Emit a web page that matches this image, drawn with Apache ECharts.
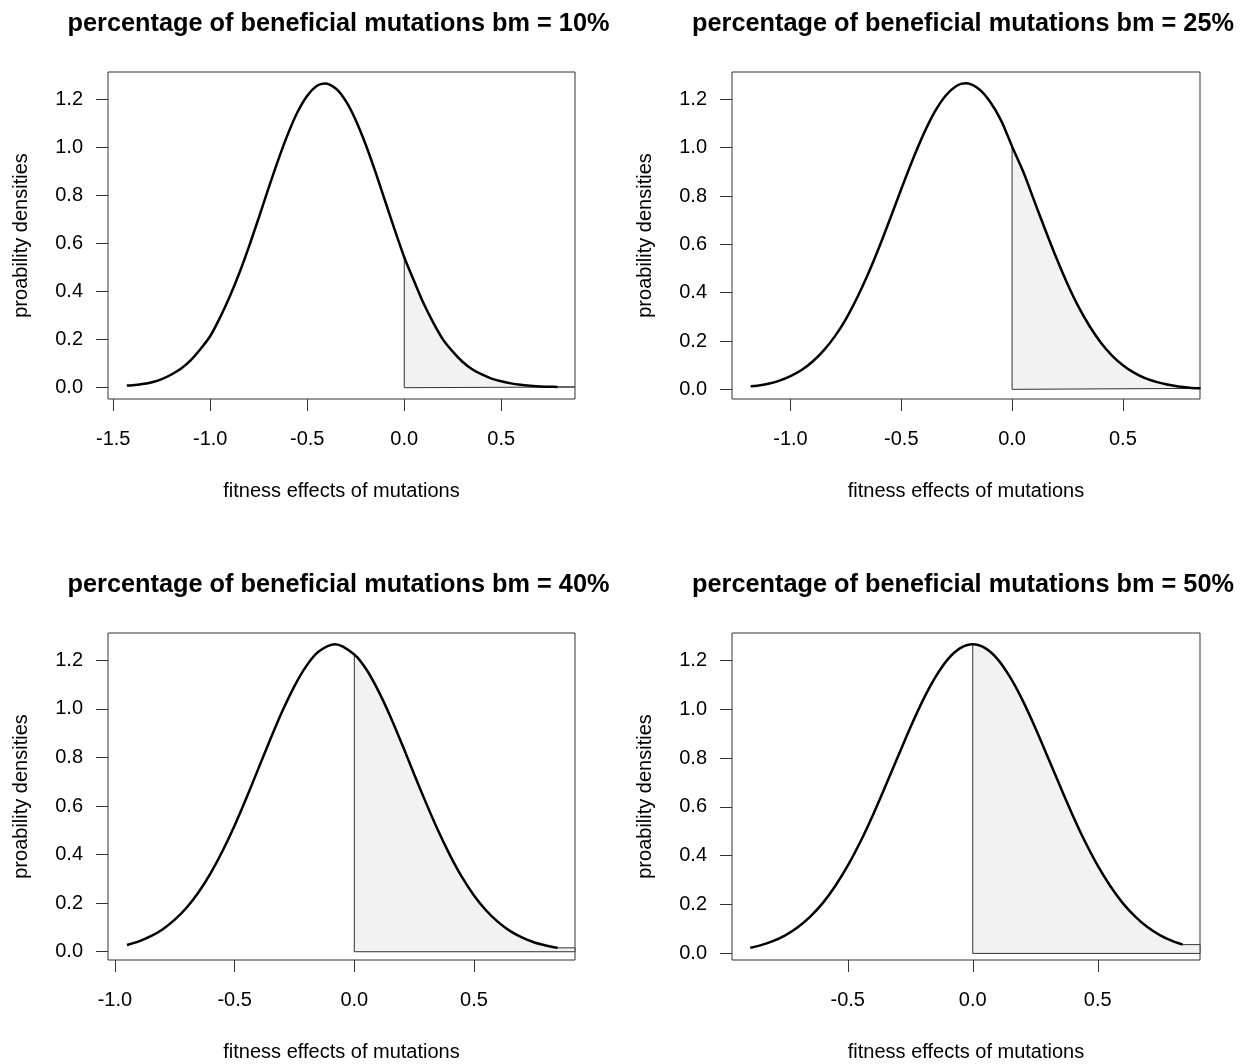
<!DOCTYPE html>
<html>
<head>
<meta charset="utf-8">
<title>beneficial mutations</title>
<script src="https://cdn.jsdelivr.net/npm/echarts@6/dist/echarts.min.js"></script>
<style>
  html, body { margin: 0; padding: 0; background: #fff; }
  #chart { width: 1247px; height: 1064px; }
</style>
</head>
<body>
<div id="chart"></div>
<script>
// panel labels (bm = share of beneficial mutations)
const bmLabels = ["10%", "25%", "40%", "50%"];

// density curves (step 0.05)
const x10 = [-1.43, -1.4, -1.35, -1.3, -1.25, -1.2, -1.15, -1.1, -1.05, -1.0, -0.95, -0.9, -0.85, -0.8, -0.75, -0.7, -0.65, -0.6, -0.55, -0.5, -0.45, -0.41, -0.35, -0.3, -0.25, -0.2, -0.15, -0.1, -0.05, 0.0, 0.05, 0.1, 0.15, 0.2, 0.25, 0.3, 0.35, 0.4, 0.45, 0.5, 0.55, 0.6, 0.65, 0.7, 0.75, 0.79];
const y10 = [0.009, 0.010, 0.015, 0.023, 0.036, 0.055, 0.080, 0.115, 0.161, 0.215, 0.291, 0.378, 0.477, 0.588, 0.707, 0.829, 0.947, 1.055, 1.147, 1.215, 1.256, 1.266, 1.243, 1.191, 1.113, 1.014, 0.901, 0.780, 0.659, 0.543, 0.445, 0.350, 0.270, 0.200, 0.150, 0.108, 0.077, 0.055, 0.038, 0.027, 0.018, 0.012, 0.008, 0.005, 0.004, 0.003];

const x25 = [-1.18, -1.15, -1.1, -1.05, -1.0, -0.95, -0.9, -0.85, -0.8, -0.75, -0.7, -0.65, -0.6, -0.55, -0.5, -0.45, -0.4, -0.35, -0.3, -0.25, -0.21, -0.15, -0.1, -0.05, 0.0, 0.05, 0.1, 0.15, 0.2, 0.25, 0.3, 0.35, 0.4, 0.45, 0.5, 0.55, 0.6, 0.65, 0.7, 0.75, 0.8, 0.85];
const y25 = [0.013, 0.015, 0.023, 0.036, 0.055, 0.080, 0.115, 0.161, 0.219, 0.291, 0.378, 0.477, 0.588, 0.707, 0.829, 0.947, 1.055, 1.147, 1.215, 1.256, 1.266, 1.243, 1.191, 1.113, 1.005, 0.901, 0.780, 0.659, 0.543, 0.436, 0.341, 0.261, 0.194, 0.141, 0.100, 0.069, 0.046, 0.031, 0.020, 0.012, 0.007, 0.004];

const x40 = [-0.95, -0.9, -0.85, -0.8, -0.75, -0.7, -0.65, -0.6, -0.55, -0.5, -0.45, -0.4, -0.35, -0.3, -0.25, -0.2, -0.15, -0.08, 0.0, 0.05, 0.1, 0.15, 0.2, 0.25, 0.3, 0.35, 0.4, 0.45, 0.5, 0.55, 0.6, 0.65, 0.7, 0.75, 0.8, 0.85];
const y40 = [0.028, 0.043, 0.064, 0.093, 0.132, 0.182, 0.246, 0.324, 0.416, 0.520, 0.635, 0.756, 0.877, 0.992, 1.094, 1.177, 1.235, 1.266, 1.224, 1.163, 1.075, 0.970, 0.853, 0.731, 0.612, 0.499, 0.397, 0.307, 0.232, 0.171, 0.123, 0.086, 0.059, 0.039, 0.026, 0.016];

const x50 = [-0.89, -0.85, -0.8, -0.75, -0.7, -0.65, -0.6, -0.55, -0.5, -0.45, -0.4, -0.35, -0.3, -0.25, -0.2, -0.15, -0.1, -0.05, 0.0, 0.05, 0.1, 0.15, 0.2, 0.25, 0.3, 0.35, 0.4, 0.45, 0.5, 0.55, 0.6, 0.65, 0.7, 0.75, 0.8, 0.84];
const y50 = [0.023, 0.033, 0.050, 0.074, 0.107, 0.151, 0.206, 0.276, 0.359, 0.456, 0.565, 0.683, 0.804, 0.924, 1.035, 1.130, 1.204, 1.250, 1.266, 1.250, 1.204, 1.130, 1.035, 0.924, 0.804, 0.683, 0.565, 0.456, 0.359, 0.276, 0.206, 0.151, 0.107, 0.074, 0.050, 0.036];

// tick labels
const yTicks = [0.0, 0.2, 0.4, 0.6, 0.8, 1.0, 1.2];
const xTicks10 = [-1.5, -1.0, -0.5, 0.0, 0.5];
const xTicks25 = [-1.0, -0.5, 0.0, 0.5];
const xTicks40 = [-1.0, -0.5, 0.0, 0.5];
const xTicks50 = [-0.5, 0.0, 0.5];

const font = "'Liberation Sans', Arial, sans-serif";

// plot box of each panel plus its axis limits (R style, 4% padding)
const panels = [
  { xs: x10, ys: y10, ticks: xTicks10, left: 108, top: 72, width: 467, xMin: -1.527, xMax: 0.880, yMin: -0.047, yMax: 1.3136 },
  { xs: x25, ys: y25, ticks: xTicks25, left: 732, top: 72, width: 468, xMin: -1.264, xMax: 0.848, yMin: -0.040, yMax: 1.313 },
  { xs: x40, ys: y40, ticks: xTicks40, left: 108, top: 633, width: 467, xMin: -1.029, xMax: 0.922, yMin: -0.034, yMax: 1.3125 },
  { xs: x50, ys: y50, ticks: xTicks50, left: 732, top: 633, width: 468, xMin: -0.963, xMax: 0.909, yMin: -0.027, yMax: 1.312 },
];
const boxHeight = 327;

const chart = echarts.init(document.getElementById("chart"), null, { renderer: "canvas" });

const title = [];
const grid = [];
const xAxis = [];
const yAxis = [];
const series = [];

panels.forEach((p, i) => {
  const curve = p.xs.map((x, k) => [x, p.ys[k]]);
  const tail = curve.filter(pt => pt[0] >= 0);
  const last = curve[curve.length - 1];
  const f0 = tail[0][1];

  title.push({
    text: "percentage of beneficial mutations bm = " + bmLabels[i],
    left: p.left + p.width / 2 - 8,
    top: p.top - 65,
    textAlign: "center",
    textStyle: { fontFamily: font, fontSize: 25.3, fontWeight: "bold", color: "#000" },
  });

  grid.push({
    left: p.left, top: p.top, width: p.width, height: boxHeight,
    show: true, borderColor: "#333", borderWidth: 1, backgroundColor: "transparent",
  });

  xAxis.push({
    type: "value", gridIndex: i, position: "bottom", min: p.xMin, max: p.xMax,
    name: "fitness effects of mutations", nameLocation: "middle", nameGap: 82,
    nameTextStyle: { fontFamily: font, fontSize: 20, color: "#000" },
    axisLine: { show: false, onZero: false },
    axisTick: { show: true, length: 12, customValues: p.ticks, lineStyle: { color: "#333" } },
    axisLabel: {
      customValues: p.ticks, margin: 30,
      fontFamily: font, fontSize: 20, color: "#000",
      formatter: v => v.toFixed(1),
    },
    splitLine: { show: false },
  });

  yAxis.push({
    type: "value", gridIndex: i, position: "left", min: p.yMin, max: p.yMax,
    name: "proability densities", nameLocation: "middle", nameGap: 77,
    nameTextStyle: { fontFamily: font, fontSize: 20, color: "#000" },
    axisLine: { show: false, onZero: false },
    axisTick: { show: true, length: 12, customValues: yTicks, lineStyle: { color: "#333" } },
    axisLabel: {
      customValues: yTicks, margin: 25,
      fontFamily: font, fontSize: 20, color: "#000",
      formatter: v => v.toFixed(1),
    },
    splitLine: { show: false },
  });

  // shaded tail (x >= 0)
  series.push({
    type: "line", xAxisIndex: i, yAxisIndex: i, z: 1,
    data: tail.concat([[p.xMax, last[1]]]),
    smooth: 0.3, showSymbol: false, silent: true,
    lineStyle: { width: 0 },
    areaStyle: { color: "#f2f2f2", opacity: 1 },
  });

  // outline of the shaded polygon (except the curve itself)
  series.push({
    type: "line", xAxisIndex: i, yAxisIndex: i, z: 2,
    data: [last, [p.xMax, last[1]], [p.xMax, 0], [0, 0], [0, f0]],
    showSymbol: false, silent: true,
    lineStyle: { color: "#333", width: 1 },
  });

  // density curve
  series.push({
    type: "line", xAxisIndex: i, yAxisIndex: i, z: 3,
    data: curve, smooth: 0.3, showSymbol: false, silent: true,
    lineStyle: { color: "#000", width: 2.5 },
  });
});

chart.setOption({
  animation: false,
  backgroundColor: "#fff",
  title, grid, xAxis, yAxis, series,
});
</script>
</body>
</html>
